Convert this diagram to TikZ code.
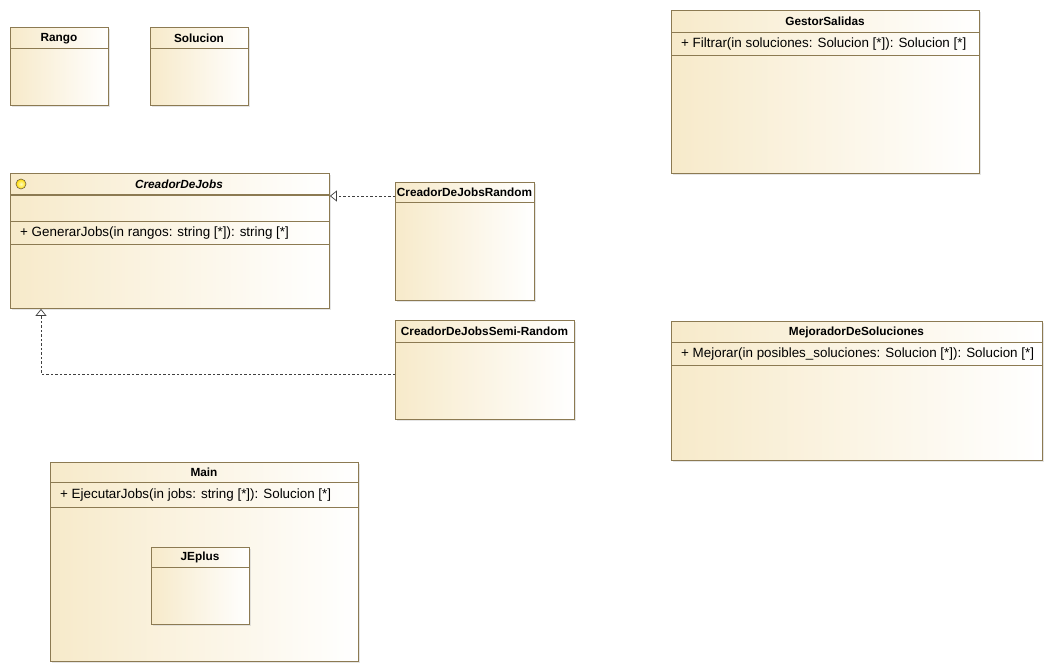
\documentclass[tikz,border=0pt]{standalone}
\usepackage{fontspec}
\usetikzlibrary{shadows,arrows.meta}
\newfontfamily\umlfam{Liberation Sans}
\newcommand\umltitle{\umlfam\bfseries\fontsize{11.8}{13}\selectfont}
\newcommand\umltitleit{\umlfam\bfseries\itshape\fontsize{11.8}{13}\selectfont}
\newcommand\umlop{\umlfam\fontsize{13.4}{15}\selectfont}
\definecolor{bordc}{RGB}{140,122,82}
\definecolor{tanc}{RGB}{247,234,202}
\definecolor{linec}{RGB}{64,64,64}
\tikzset{
  cls/.style={rectangle, draw=bordc, line width=0.9pt, left color=tanc, right color=white,
    drop shadow={shadow xshift=2pt, shadow yshift=-2pt, fill=black!20},
    anchor=north west, inner sep=0pt},
  ttl/.style={font=\umltitle, text=black, inner sep=0pt},
  op/.style={font=\umlop, text=black, anchor=west, inner sep=0pt},
  div/.style={draw=bordc, line width=0.9pt},
  realize/.style={draw=linec, line width=0.7pt, dash pattern=on 2.5pt off 2pt,
    -{Triangle[open,length=7pt,width=11pt]}}
}
\begin{document}
\begin{tikzpicture}[x=1pt,y=-1pt]
\useasboundingbox (0,0) rectangle (1053,671);
\fill[white] (0,0) rectangle (1053,671);

% Rango
\node[cls, minimum width=98pt, minimum height=78pt] (rango) at (10,27) {};
\draw[div] (10,48) -- (108,48);
\node[ttl] (rangot) at (59,38.5) {Rango};

% Solucion
\node[cls, minimum width=98pt, minimum height=78pt] (sol) at (150,27) {};
\draw[div] (150,48) -- (248,48);
\node[ttl] (solt) at (199,38.5) {Solucion};

% GestorSalidas
\node[cls, minimum width=308pt, minimum height=163pt] (gestor) at (671,10) {};
\draw[div] (671,32) -- (979,32);
\draw[div] (671,55) -- (979,55);
\node[ttl] (gestort) at (825,21.5) {GestorSalidas};
\node[op] (gestorop) at (681,44) {+ Filtrar(in soluciones: Solucion [*]): Solucion [*]};

% CreadorDeJobs
\node[cls, minimum width=319pt, minimum height=135pt] (cdj) at (10,173) {};
\draw[bordc, line width=1.8pt] (10,195) -- (329,195);
\draw[div] (10,221) -- (329,221);
\draw[div] (10,244) -- (329,244);
\node[circle, draw=bordc!80!black, line width=0.6pt, inner color=yellow!25, outer color=yellow!70!orange, minimum size=10pt, inner sep=0pt] (icon) at (21,184) {};
\node[ttl, font=\umltitleit] (cdjt) at (179,184.5) {CreadorDeJobs};
\node[op] (cdjop) at (20,233) {+ GenerarJobs(in rangos: string [*]): string [*]};

% CreadorDeJobsRandom
\node[cls, minimum width=139pt, minimum height=118pt] (random) at (395,182) {};
\draw[div] (395,202) -- (534,202);
\node[ttl] (randomt) at (464.5,192.5) {CreadorDeJobsRandom};

% CreadorDeJobsSemi-Random
\node[cls, minimum width=179pt, minimum height=99pt] (semi) at (395,320) {};
\draw[div] (395,342) -- (574,342);
\node[ttl] (semit) at (484.5,331.5) {CreadorDeJobsSemi-Random};

% MejoradorDeSoluciones
\node[cls, minimum width=371pt, minimum height=139pt] (mejor) at (671,321) {};
\draw[div] (671,342) -- (1042,342);
\draw[div] (671,365) -- (1042,365);
\node[ttl] (mejort) at (856.5,332) {MejoradorDeSoluciones};
\node[op] (mejorop) at (681,354) {+ Mejorar(in posibles\_soluciones: Solucion [*]): Solucion [*]};

% Main
\node[cls, minimum width=308pt, minimum height=199pt] (main) at (50,462) {};
\draw[div] (50,482) -- (358,482);
\draw[div] (50,507) -- (358,507);
\node[ttl] (maint) at (204,472.5) {Main};
\node[op] (mainop) at (60,495) {+ EjecutarJobs(in jobs: string [*]): Solucion [*]};

% JEplus
\node[cls, minimum width=98pt, minimum height=77pt] (jeplus) at (151,547) {};
\draw[div] (151,567) -- (249,567);
\node[ttl] (jeplust) at (200,557.5) {JEplus};

% Realizations
\coordinate (rp) at ([yshift=-14pt]random.north west);
\draw[realize] (rp) -- (rp -| cdj.east);
\coordinate (sp) at ([yshift=-54pt]semi.north west);
\coordinate (ap) at ([xshift=31pt]cdj.south west);
\draw[realize] (sp) -| (ap);
\end{tikzpicture}
\end{document}
